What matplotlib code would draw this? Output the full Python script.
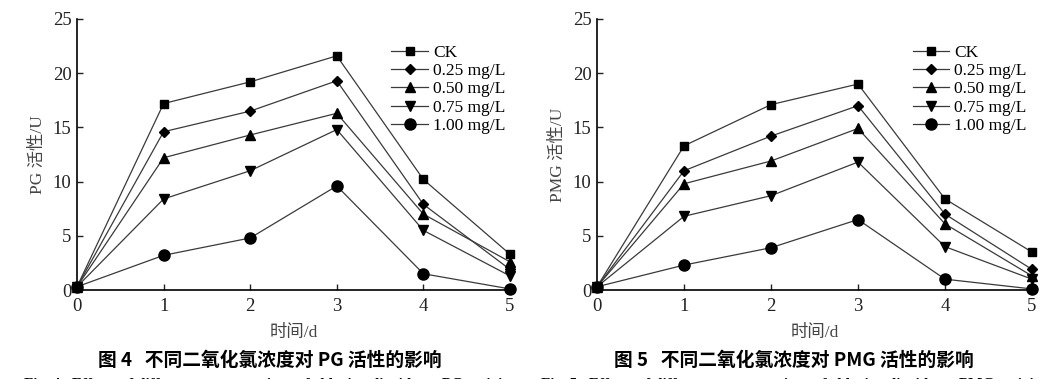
import numpy as np
import matplotlib.pyplot as plt

plt.rcParams['font.family'] = ['Liberation Serif', 'Noto Sans CJK SC']
plt.rcParams['axes.unicode_minus'] = False

days = [0, 1, 2, 3, 4, 5]
labels = ['CK', '0.25 mg/L', '0.50 mg/L', '0.75 mg/L', '1.00 mg/L']
markers = ['s', 'D', '^', 'v', 'o']
msizes = [5.5, 5, 7, 7, 8]

pg_ck = [0.3, 17.2, 19.2, 21.6, 10.2, 3.3]
pg_025 = [0.3, 14.6, 16.5, 19.3, 7.9, 1.9]
pg_050 = [0.3, 12.2, 14.3, 16.3, 7.0, 2.6]
pg_075 = [0.3, 8.4, 11.0, 14.8, 5.5, 1.3]
pg_100 = [0.3, 3.2, 4.8, 9.6, 1.5, 0.1]

pmg_ck = [0.3, 13.3, 17.1, 19.0, 8.4, 3.5]
pmg_025 = [0.3, 11.0, 14.2, 17.0, 7.0, 1.9]
pmg_050 = [0.3, 9.8, 11.9, 14.9, 6.1, 1.3]
pmg_075 = [0.3, 6.8, 8.7, 11.8, 4.0, 1.0]
pmg_100 = [0.3, 2.3, 3.9, 6.5, 1.0, 0.1]

pg = [pg_ck, pg_025, pg_050, pg_075, pg_100]
pmg = [pmg_ck, pmg_025, pmg_050, pmg_075, pmg_100]

fig = plt.figure(figsize=(10.58, 3.79), dpi=100)
ax1 = fig.add_axes([0.0728, 0.2348, 0.4092, 0.7151])
ax2 = fig.add_axes([0.5643, 0.2348, 0.4111, 0.7151])


def draw(ax, series, ylab):
    for vals, lab, m, s in zip(series, labels, markers, msizes):
        ax.plot(days, vals, color='#3a3a3a', lw=0.9, marker=m, ms=s,
                mfc='black', mec='black', label=lab, clip_on=False, zorder=3)
    ax.set_xlim(0, 5)
    ax.set_ylim(0, 25)
    ax.set_xticks(days)
    ax.set_yticks([0, 5, 10, 15, 20, 25])
    ax.spines['top'].set_visible(False)
    ax.spines['right'].set_visible(False)
    ax.spines['left'].set_linewidth(1.2)
    ax.spines['bottom'].set_linewidth(1.2)
    ax.tick_params(direction='in', length=4, width=1, labelsize=13.5,
                   colors='#222222')
    ax.tick_params(axis='x', pad=6)
    ax.tick_params(axis='y', pad=4)
    ax.set_xlabel('时间/d', fontsize=12.5, color='#444444', labelpad=7)
    ax.set_ylabel(ylab, fontsize=12.5, color='#444444', labelpad=5)
    ax.legend(loc='upper left', bbox_to_anchor=(0.726, 0.905), frameon=False,
              fontsize=12.5, handlelength=2.1, handletextpad=0.3,
              labelspacing=0.12, borderpad=0, borderaxespad=0)


draw(ax1, pg, 'PG 活性/U')
draw(ax2, pmg, 'PMG 活性/U')

fig.text(0.255, 0.05, '图 4   不同二氧化氯浓度对 PG 活性的影响', ha='center',
         va='center', fontsize=13.5, fontweight='bold', family='Noto Sans CJK SC')
fig.text(0.75, 0.05, '图 5   不同二氧化氯浓度对 PMG 活性的影响', ha='center',
         va='center', fontsize=13.5, fontweight='bold', family='Noto Sans CJK SC')
fig.text(0.255, -0.014, 'Fig. 4   Effects of different concentrations of chlorine dioxide on PG activity',
         ha='center', va='center', fontsize=11, fontweight='bold')
fig.text(0.75, -0.014, 'Fig. 5   Effects of different concentrations of chlorine dioxide on PMG activity',
         ha='center', va='center', fontsize=11, fontweight='bold')

fig.savefig('out.png', dpi=100)
